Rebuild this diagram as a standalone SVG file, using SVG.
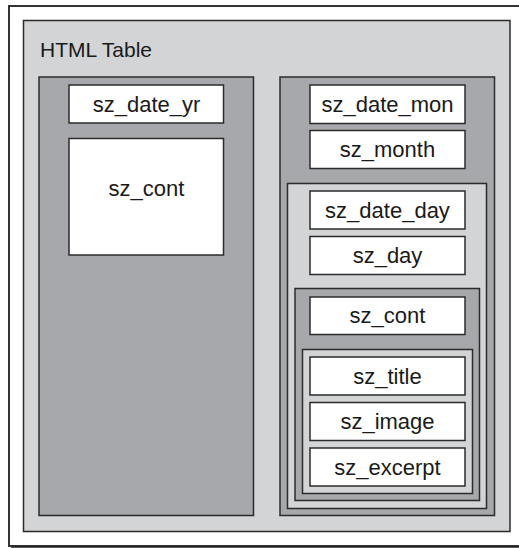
<svg xmlns="http://www.w3.org/2000/svg" width="519" height="548" viewBox="0 0 519 548">
<style>
.frame{fill:#ffffff;stroke:#333;stroke-width:2}
.light{fill:#d3d4d6;stroke:#2b2b2b;stroke-width:1.5}
.dark{fill:#a7a8ab;stroke:#2b2b2b;stroke-width:1.5}
.box{fill:#ffffff;stroke:#2b2b2b;stroke-width:1.5}
.t{font-family:"Liberation Sans",Arial,sans-serif;font-size:22px;fill:#1a1a1a;text-anchor:middle}
.lbl{font-family:"Liberation Sans",Arial,sans-serif;font-size:21px;fill:#1a1a1a}
</style>
<rect width="519" height="548" fill="#ffffff"/>
<g id="frame">
<rect class="frame" x="9" y="6" width="520" height="540"/>
<line x1="11" y1="547" x2="519" y2="547" stroke="#222" stroke-width="1.5"/>
</g>
<g id="html_table">
<rect class="light" x="23.5" y="20.5" width="486.5" height="511"/>
<text class="lbl" x="40" y="57">HTML Table</text>
</g>
<g id="left_col">
<rect class="dark" x="39" y="77" width="214.5" height="438.5"/>
</g>
<g id="sz_date_yr">
<rect class="box" x="69" y="85" width="154.5" height="38"/>
<text class="t" x="146.5" y="111.5">sz_date_yr</text>
</g>
<g id="sz_cont_left">
<rect class="box" x="69" y="138.5" width="154.5" height="116.5"/>
<text class="t" x="146.5" y="196">sz_cont</text>
</g>
<g id="right_col">
<rect class="dark" x="280" y="77" width="214.5" height="438.5"/>
</g>
<g id="sz_date_mon">
<rect class="box" x="310" y="85" width="155" height="38.5"/>
<text class="t" x="387.5" y="111.5">sz_date_mon</text>
</g>
<g id="sz_month">
<rect class="box" x="310" y="130.5" width="155" height="38"/>
<text class="t" x="387.5" y="157">sz_month</text>
</g>
<g id="day_panel">
<rect class="light" x="287.5" y="183.5" width="199" height="325"/>
</g>
<g id="sz_date_day">
<rect class="box" x="310" y="191" width="155" height="38"/>
<text class="t" x="387.5" y="217.5">sz_date_day</text>
</g>
<g id="sz_day">
<rect class="box" x="310" y="236.5" width="155" height="38"/>
<text class="t" x="387.5" y="263">sz_day</text>
</g>
<g id="cont_panel">
<rect class="dark" x="295" y="288.5" width="184.5" height="212"/>
</g>
<g id="sz_cont_right">
<rect class="box" x="310" y="297" width="155" height="37.5"/>
<text class="t" x="387.5" y="323">sz_cont</text>
</g>
<g id="inner_panel">
<rect class="light" x="302.5" y="349.5" width="170" height="144"/>
</g>
<g id="sz_title">
<rect class="box" x="310" y="357" width="155" height="38"/>
<text class="t" x="387.5" y="383.5">sz_title</text>
</g>
<g id="sz_image">
<rect class="box" x="310" y="402.5" width="155" height="38"/>
<text class="t" x="387.5" y="429">sz_image</text>
</g>
<g id="sz_excerpt">
<rect class="box" x="310" y="448" width="155" height="38"/>
<text class="t" x="387.5" y="474.5">sz_excerpt</text>
</g>
<g id="connectors"></g>
</svg>
